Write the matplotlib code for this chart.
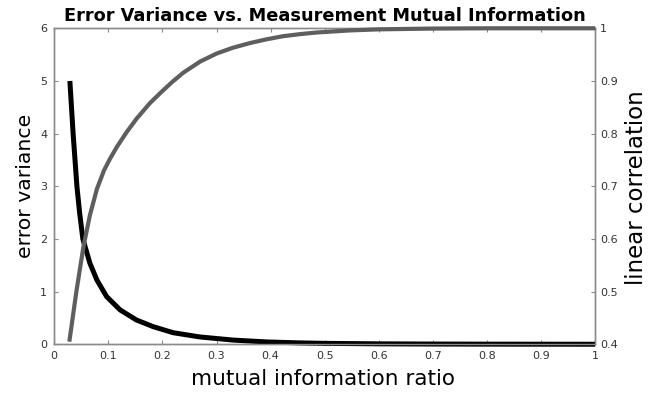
import matplotlib
matplotlib.use("Agg")
import matplotlib.pyplot as plt

# error variance (left axis)
ev_x = [0.029, 0.035, 0.042, 0.047, 0.053, 0.066, 0.079, 0.097, 0.122, 0.152, 0.183, 0.220,
        0.269, 0.331, 0.393, 0.45, 0.5, 0.6, 0.7, 0.8, 0.9, 1.0]
ev_y = [5.0, 4.0, 3.0, 2.5, 2.0, 1.54, 1.22, 0.905, 0.652, 0.462, 0.335, 0.22,
        0.14, 0.08, 0.045, 0.028, 0.018, 0.009, 0.005, 0.003, 0.002, 0.001]

# linear correlation (right axis)
lc_x = [0.028, 0.041, 0.054, 0.066, 0.079, 0.092, 0.103, 0.116, 0.134, 0.152, 0.177, 0.196,
        0.218, 0.239, 0.27, 0.30, 0.33, 0.362, 0.392, 0.423, 0.455, 0.485, 0.547, 0.6, 0.7, 0.8, 0.9, 1.0]
lc_y = [0.405, 0.50, 0.585, 0.645, 0.695, 0.730, 0.752, 0.775, 0.803, 0.828, 0.858, 0.877,
        0.898, 0.916, 0.937, 0.952, 0.963, 0.972, 0.979, 0.985, 0.989, 0.992, 0.996, 0.998, 0.9995, 1.0, 1.0, 1.0]

x_ticks = [0, 0.1, 0.2, 0.3, 0.4, 0.5, 0.6, 0.7, 0.8, 0.9, 1]
x_tick_labels = ["0", "0.1", "0.2", "0.3", "0.4", "0.5", "0.6", "0.7", "0.8", "0.9", "1"]
left_ticks = [0, 1, 2, 3, 4, 5, 6]
right_ticks = [0.4, 0.5, 0.6, 0.7, 0.8, 0.9, 1.0]
right_tick_labels = ["0.4", "0.5", "0.6", "0.7", "0.8", "0.9", "1"]

plt.rcParams['font.family'] = ['DejaVu Sans']
fig = plt.figure(figsize=(6.52, 3.93), dpi=100)
L, R, B, T = 0.0831, 0.913, 0.1239, 0.928
ax = fig.add_axes([L, B, R - L, T - B])
ax2 = ax.twinx()

spine_col = "#8a8a8a"
ax.plot(ev_x, ev_y, color="black", lw=3.6, solid_capstyle="butt", clip_on=False, zorder=3)
ax2.plot(lc_x, lc_y, color="#5e5e5e", lw=3.0, solid_capstyle="butt", clip_on=False, zorder=3)

ax.set_xlim(0, 1)
ax.set_ylim(0, 6)
ax2.set_ylim(0.4, 1.0)
ax.set_xticks(x_ticks)
ax.set_xticklabels(x_tick_labels)
ax.set_yticks(left_ticks)
ax2.set_yticks(right_ticks)
ax2.set_yticklabels(right_tick_labels)

for a in (ax, ax2):
    for s in a.spines.values():
        s.set_color(spine_col)
        s.set_linewidth(1.0)
ax.tick_params(axis="x", direction="in", top=True, length=3, width=0.8, color=spine_col,
               labelsize=8, pad=5, labelcolor="#333333")
ax.tick_params(axis="y", direction="in", length=3, width=0.8, color=spine_col,
               labelsize=8, pad=5, labelcolor="#333333")
ax2.tick_params(axis="y", direction="in", length=3, width=0.8, color=spine_col,
                labelsize=8, pad=3.5, labelcolor="#333333")

ax.set_xlabel("mutual information ratio", fontsize=15.5)
ax.xaxis.set_label_coords(0.497, -0.078)
ax.set_ylabel("error variance", fontsize=14.7)
ax.yaxis.set_label_coords(-0.035, 0.5)
ax2.set_ylabel("linear correlation", fontsize=16.5)
ax2.yaxis.set_label_coords(1.055, 0.495)
ax.set_title("Error Variance vs. Measurement Mutual Information", fontsize=12.8,
             fontweight="bold", pad=5)

fig.savefig("out.png", dpi=100)
